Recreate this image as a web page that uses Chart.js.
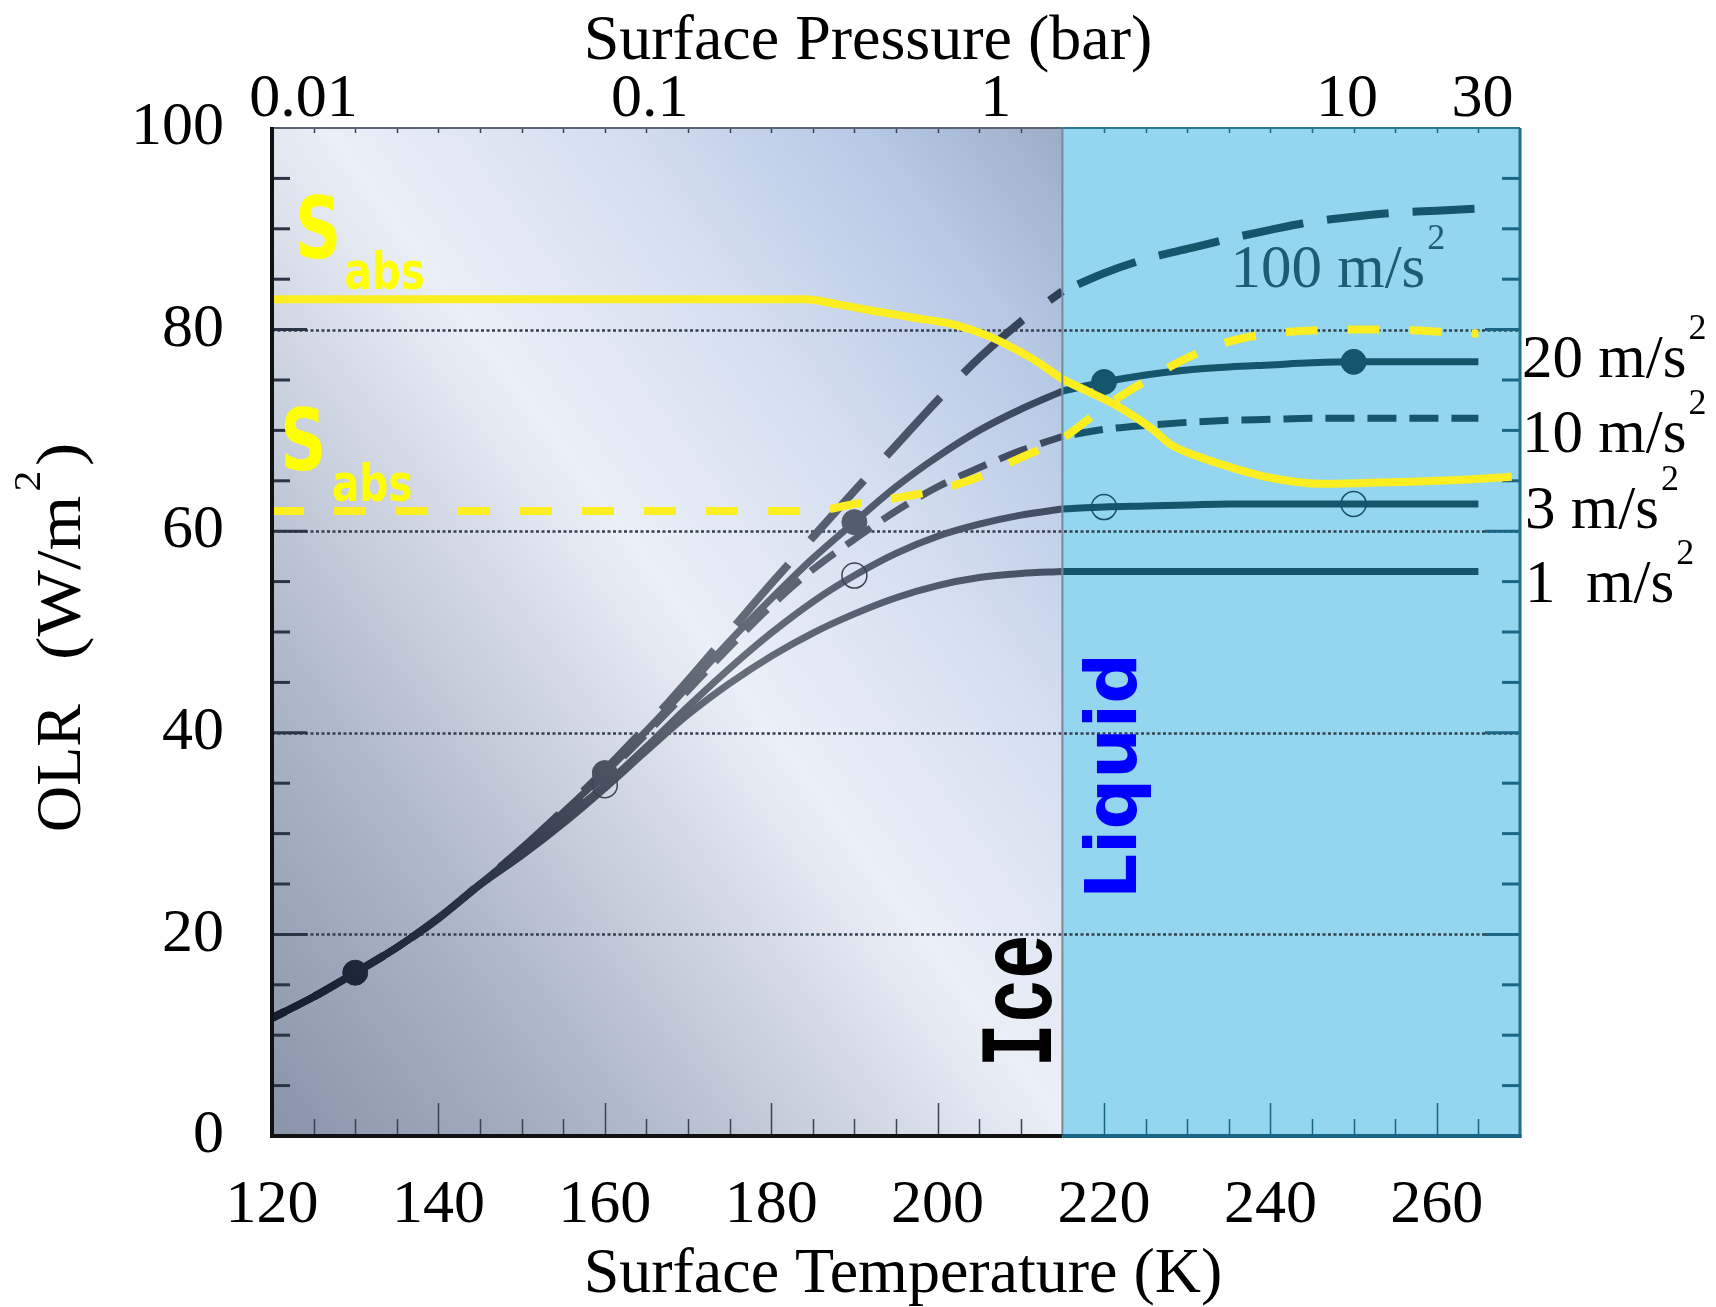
<!DOCTYPE html>
<html>
<head>
<meta charset="utf-8">
<script src="https://cdn.jsdelivr.net/npm/chart.js@4.4.1/dist/chart.umd.min.js"></script>
<style>
  html, body { margin: 0; padding: 0; background: #fff; }
  #wrap { width: 1716px; height: 1307px; position: relative; }
</style>
</head>
<body>
<div id="wrap"><canvas id="olr"></canvas></div>
<script>
// surface temperature (K) on the ice side and on the liquid side
const tempIce = [120, 125, 130, 135, 140, 145, 150, 155, 160, 165, 170, 175, 180, 185, 190, 195, 200, 205, 210, 215];
const tempLiquid = [215, 220, 225, 230, 235, 240, 245, 250, 255, 260, 265];

// OLR (W/m2) for each surface gravity
const olrG1Ice = [11.7, 13.8, 16.2, 18.7, 21.6, 24.9, 27.8, 31.0, 34.5, 38.2, 41.8, 44.9, 47.6, 49.9, 51.8, 53.4, 54.6, 55.4, 55.8, 56.0];
const olrG3Ice = [11.7, 13.8, 16.2, 18.7, 21.6, 24.9, 28.0, 31.3, 34.8, 38.6, 42.6, 46.4, 49.9, 53.0, 55.6, 57.8, 59.5, 60.7, 61.6, 62.2];
const olrG10Ice = [11.7, 13.8, 16.2, 18.7, 21.6, 25.0, 28.3, 32.0, 35.8, 39.9, 44.2, 48.5, 52.6, 56.2, 59.2, 62.0, 64.4, 66.3, 68.0, 69.4];
const olrG20Ice = [11.7, 13.8, 16.2, 18.7, 21.6, 25.0, 28.4, 32.1, 36.0, 40.2, 44.6, 49.1, 53.3, 57.3, 60.9, 64.4, 67.4, 70.0, 72.1, 73.9];
const olrG100Ice = [11.7, 13.8, 16.2, 18.7, 21.6, 25.0, 28.5, 32.3, 36.3, 40.6, 45.2, 50.0, 54.8, 59.4, 64.0, 68.5, 73.0, 77.2, 80.8, 83.8];

const olrG1Liq = [56.0, 56.0, 56.0, 56.0, 56.0, 56.0, 56.0, 56.0, 56.0, 56.0, 56.0];
const olrG3Liq = [62.2, 62.4, 62.5, 62.6, 62.7, 62.7, 62.7, 62.7, 62.7, 62.7, 62.7];
const olrG10Liq = [69.4, 70.1, 70.5, 70.8, 71.0, 71.1, 71.2, 71.2, 71.2, 71.2, 71.2];
const olrG20Liq = [73.9, 74.8, 75.5, 76.0, 76.3, 76.5, 76.7, 76.8, 76.8, 76.8, 76.8];
const olrG100Liq = [83.8, 85.6, 87.0, 88.0, 89.0, 89.9, 90.7, 91.2, 91.6, 91.8, 92.0];

// absorbed stellar flux, two cases
const sabsTemps = [120, 130, 140, 150, 160, 170, 180, 184, 188, 192, 197, 202, 206, 209, 212, 215, 218, 221, 224, 226, 228, 231, 235, 240, 246, 252, 257, 263, 269];
const sabsSolid = [83.0, 83.0, 83.0, 83.0, 83.0, 83.0, 83.0, 83.0, 82.5, 81.9, 81.2, 80.5, 79.4, 78.2, 76.8, 75.1, 73.9, 72.7, 71.2, 70.0, 68.6, 67.5, 66.4, 65.3, 64.7, 64.8, 64.9, 65.1, 65.4];
const sabsDashTemps = [120, 140, 160, 185, 190, 195, 200, 205, 210, 215, 220, 225, 230, 235, 240, 245, 250, 255, 260, 265];
const sabsDashed = [62.0, 62.0, 62.0, 62.0, 62.7, 63.3, 64.1, 65.4, 67.3, 69.2, 72.3, 74.9, 77.2, 78.8, 79.6, 79.9, 80.0, 80.0, 79.8, 79.6];

// marker temperatures: filled dots on 20 m/s2, open circles on 3 m/s2
const dotTemps = [130, 160, 190, 220, 250];
const circleTemps = [160, 190, 220, 250];

// axis ticks
const tempTicks = [120, 140, 160, 180, 200, 220, 240, 260];
const olrTicks = [0, 20, 40, 60, 80, 100];
const pressureLabels = ['0.01', '0.1', '1', '10', '30'];
const pressureTickTemps = [123.8, 165.4, 207.0, 249.2, 265.5];

const ICE_EDGE = 215;
const TEAL = '#16566d';
const YELLOW = '#fcee21';
const SERIF = '"Liberation Serif", "Times New Roman", serif';

function lookup(temps, vals, t) {
  return vals[temps.indexOf(t)];
}
const g20All = { t: tempIce.concat(tempLiquid.slice(1)), v: olrG20Ice.concat(olrG20Liq.slice(1)) };
const g3All = { t: tempIce.concat(tempLiquid.slice(1)), v: olrG3Ice.concat(olrG3Liq.slice(1)) };

// the ice panel is shaded along a diagonal band, lines under it take a matching tint
function diagGradient(chart, stops) {
  const { scales } = chart;
  const x = scales.x, y = scales.y;
  const g = chart.ctx.createLinearGradient(
    x.getPixelForValue(109.4), y.getPixelForValue(11.9),
    x.getPixelForValue(228.8), y.getPixelForValue(84.7)
  );
  stops.forEach(([p, c]) => g.addColorStop(p, c));
  return g;
}

function iceLineColor(ctx) {
  const chart = ctx.chart;
  if (!chart.chartArea) return '#555d6b';
  return diagGradient(chart, [
    [0, '#0f1828'], [0.25, '#2a3344'], [0.52, '#676e7b'], [0.75, '#4a5568'], [1, '#22344e']
  ]);
}

function curve(temps, vals, opts) {
  return Object.assign({
    data: temps.map((t, i) => ({ x: t, y: vals[i] })),
    pointRadius: 0,
    borderWidth: 7,
    fill: false,
    cubicInterpolationMode: 'monotone',
    order: 3
  }, opts);
}

function markers(temps, series, opts) {
  return Object.assign({
    data: temps.map(t => ({ x: t, y: lookup(series.t, series.v, t) })),
    showLine: false,
    pointRadius: 12.5,
    order: 2
  }, opts);
}

const datasets = [
  curve(tempIce, olrG1Ice, { borderColor: iceLineColor }),
  curve(tempIce, olrG3Ice, { borderColor: iceLineColor }),
  curve(tempIce, olrG10Ice, { borderColor: iceLineColor, borderDash: [30, 14] }),
  curve(tempIce, olrG20Ice, { borderColor: iceLineColor }),
  curve(tempIce, olrG100Ice, { borderColor: iceLineColor, borderDash: [80, 33], borderDashOffset: 65, borderWidth: 8 }),
  curve(tempLiquid, olrG1Liq, { borderColor: TEAL }),
  curve(tempLiquid, olrG3Liq, { borderColor: TEAL }),
  curve(tempLiquid, olrG10Liq, { borderColor: TEAL, borderDash: [29, 13], borderDashOffset: 30 }),
  curve(tempLiquid, olrG20Liq, { borderColor: TEAL }),
  curve(tempLiquid, olrG100Liq, { borderColor: TEAL, borderDash: [62, 24], borderWidth: 8, borderDashOffset: 69 }),
  markers(dotTemps.filter(t => t < ICE_EDGE), g20All, {
    pointBackgroundColor: iceLineColor, pointBorderColor: iceLineColor, pointBorderWidth: 1
  }),
  markers(dotTemps.filter(t => t > ICE_EDGE), g20All, {
    pointBackgroundColor: TEAL, pointBorderColor: TEAL, pointBorderWidth: 1
  }),
  markers(circleTemps.filter(t => t < ICE_EDGE), g3All, {
    pointBackgroundColor: 'rgba(0,0,0,0)', pointBorderColor: '#3c4556', pointBorderWidth: 1.5
  }),
  markers(circleTemps.filter(t => t > ICE_EDGE), g3All, {
    pointBackgroundColor: 'rgba(0,0,0,0)', pointBorderColor: '#1b4f66', pointBorderWidth: 1.5
  }),
  curve(sabsTemps, sabsSolid, { borderColor: YELLOW, borderWidth: 8, order: 0 }),
  curve(sabsDashTemps, sabsDashed, { borderColor: YELLOW, borderWidth: 8, borderDash: [32, 30], order: 0 })
];

// panel backgrounds, dotted grid, inward ticks
const panelPlugin = {
  id: 'panels',
  beforeDraw(chart) {
    const { ctx, chartArea: a, scales: { x } } = chart;
    const edge = x.getPixelForValue(ICE_EDGE);
    ctx.save();
    ctx.fillStyle = '#fff';
    ctx.fillRect(0, 0, chart.width, chart.height);
    ctx.fillStyle = diagGradient(chart, [
      [0, '#8994aa'], [0.2, '#a8b2c5'], [0.52, '#ebeff7'], [0.7, '#d5dff0'], [0.87, '#b6c9e5'], [1, '#9cadc6']
    ]);
    ctx.fillRect(a.left, a.top, edge - a.left, a.bottom - a.top);
    ctx.fillStyle = '#94d5ef';
    ctx.fillRect(edge, a.top, a.right - edge, a.bottom - a.top);
    ctx.restore();
  },
  beforeDatasetsDraw(chart) {
    const { ctx, chartArea: a, scales: { x, y } } = chart;
    ctx.save();
    // dotted grid
    ctx.strokeStyle = '#34404f';
    ctx.lineWidth = 2.5;
    ctx.setLineDash([3, 2.5]);
    [20, 40, 60, 80].forEach(v => {
      const py = Math.round(y.getPixelForValue(v)) + 0.5;
      ctx.beginPath();
      ctx.moveTo(a.left, py);
      ctx.lineTo(a.right, py);
      ctx.stroke();
    });
    ctx.setLineDash([]);
    // y ticks, both sides
    ctx.lineWidth = 3;
    for (let v = 5; v < 100; v += 5) {
      const py = y.getPixelForValue(v);
      const len = v % 20 === 0 ? 35 : 18;
      ctx.strokeStyle = '#2b3445';
      ctx.beginPath();
      ctx.moveTo(a.left, py);
      ctx.lineTo(a.left + len, py);
      ctx.stroke();
      ctx.strokeStyle = '#1b6685';
      ctx.beginPath();
      ctx.moveTo(a.right, py);
      ctx.lineTo(a.right - len, py);
      ctx.stroke();
    }
    // x ticks, bottom (long/short) and top (short)
    ctx.lineWidth = 1.5;
    for (let t = 125; t < 270; t += 5) {
      if (t === ICE_EDGE) continue;
      const px = Math.round(x.getPixelForValue(t)) + 0.5;
      const len = t % 20 === 0 ? 33 : 17;
      ctx.strokeStyle = t < ICE_EDGE ? '#3a4253' : '#1b6685';
      ctx.beginPath();
      ctx.moveTo(px, a.bottom);
      ctx.lineTo(px, a.bottom - len);
      ctx.moveTo(px, a.top);
      ctx.lineTo(px, a.top + 5);
      ctx.stroke();
    }
    ctx.restore();
  },
  afterDatasetsDraw(chart) {
    const { ctx, chartArea: a, scales: { x } } = chart;
    const edge = x.getPixelForValue(ICE_EDGE);
    ctx.save();
    const seg = (x1, y1, x2, y2, c, w) => {
      ctx.strokeStyle = c;
      ctx.lineWidth = w;
      ctx.beginPath();
      ctx.moveTo(x1, y1);
      ctx.lineTo(x2, y2);
      ctx.stroke();
    };
    seg(edge, a.top, edge, a.bottom, '#768a98', 2);
    seg(a.left, a.top, edge, a.top, '#5a6473', 2);
    seg(edge, a.top, a.right, a.top, '#2a7a95', 2);
    seg(a.right, a.top, a.right, a.bottom + 2, '#1f6f8f', 3);
    seg(a.left - 2, a.bottom, edge, a.bottom, '#111', 4);
    seg(edge, a.bottom, a.right + 1.5, a.bottom, '#1a6584', 4);
    seg(a.left, a.top - 1, a.left, a.bottom + 2, '#111', 4);
    ctx.restore();
  }
};

// labels, region names and axis titles
const textPlugin = {
  id: 'annotations',
  afterDraw(chart) {
    const { ctx, chartArea: a, scales: { x, y } } = chart;
    ctx.save();
    ctx.textAlign = 'left';
    ctx.textBaseline = 'alphabetic';

    const withSup = (main, px, py, color, size, supSize, lift) => {
      ctx.fillStyle = color;
      ctx.font = size + 'px ' + SERIF;
      ctx.fillText(main, px, py);
      const w = ctx.measureText(main).width;
      ctx.font = supSize + 'px ' + SERIF;
      ctx.fillText('2', px + w + 2, py - lift);
    };

    // gravity labels
    withSup('100 m/s', x.getPixelForValue(235.2), y.getPixelForValue(84.2), '#1d5d74', 61, 36, 38);
    const rightLabels = [['20 m/s', 75.3], ['10 m/s', 67.9], ['3 m/s', 60.3], ['1  m/s', 53.0]];
    rightLabels.forEach(([txt, v], i) => {
      withSup(txt, a.right + (i < 2 ? 2 : 5), y.getPixelForValue(v), '#000', 61, 36, 38);
    });

    // S_abs labels
    const sabs = (tS, vS, tA, vA) => {
      ctx.fillStyle = '#ffff00';
      ctx.save();
      ctx.translate(x.getPixelForValue(tS), y.getPixelForValue(vS));
      ctx.scale(0.75, 1);
      ctx.font = 'bold 85px "DejaVu Sans", sans-serif';
      ctx.fillText('S', 0, 0);
      ctx.restore();
      ctx.save();
      ctx.translate(x.getPixelForValue(tA), y.getPixelForValue(vA));
      ctx.scale(0.78, 1);
      ctx.font = 'bold 52px "DejaVu Sans", sans-serif';
      ctx.fillText('abs', 0, 0);
      ctx.restore();
    };
    sabs(122.8, 87.1, 128.7, 84.0);
    sabs(121.0, 66.1, 127.2, 63.0);

    // region names, written upwards
    ctx.save();
    ctx.translate(x.getPixelForValue(213.6), y.getPixelForValue(6.8));
    ctx.rotate(-Math.PI / 2);
    ctx.scale(1, 1.4);
    ctx.fillStyle = '#000';
    ctx.font = 'bold 74px "Liberation Mono", monospace';
    ctx.fillText('Ice', 0, 0);
    ctx.restore();

    ctx.save();
    ctx.translate(x.getPixelForValue(223.9), y.getPixelForValue(23.5));
    ctx.rotate(-Math.PI / 2);
    ctx.fillStyle = '#0000ff';
    ctx.font = 'bold 71px "DejaVu Sans", sans-serif';
    ctx.fillText('Liquid', 0, 0);
    ctx.restore();

    // axis titles
    ctx.fillStyle = '#000';
    ctx.font = '64px ' + SERIF;
    ctx.textAlign = 'center';
    ctx.fillText('Surface Pressure (bar)', 868, 59);
    ctx.fillText('Surface Temperature (K)', 903, 1292);

    ctx.save();
    ctx.translate(80, 832);
    ctx.rotate(-Math.PI / 2);
    ctx.textAlign = 'left';
    ctx.font = '64px ' + SERIF;
    ctx.fillText('OLR', 0, 0);
    let w = ctx.measureText('OLR').width + 44;
    ctx.save();
    ctx.translate(w, 0);
    ctx.scale(1.1, 1);
    const main = '(W/m';
    ctx.fillText(main, 0, 0);
    let w2 = ctx.measureText(main).width;
    ctx.font = '38px ' + SERIF;
    ctx.fillText('2', w2 + 4, -40);
    w2 += ctx.measureText('2').width + 8;
    ctx.font = '64px ' + SERIF;
    ctx.fillText(')', w2, 0);
    ctx.restore();
    ctx.restore();

    ctx.restore();
  }
};

const tickFont = { family: SERIF, size: 62 };

new Chart(document.getElementById('olr'), {
  type: 'line',
  data: { datasets },
  options: {
    responsive: true,
    maintainAspectRatio: false,
    animation: false,
    events: [],
    layout: { padding: 0 },
    plugins: { legend: { display: false }, tooltip: { enabled: false } },
    scales: {
      x: {
        type: 'linear',
        position: 'bottom',
        min: 120,
        max: 270,
        afterBuildTicks: s => { s.ticks = tempTicks.map(v => ({ value: v })); },
        afterFit: s => { s.height = 171; },
        grid: { display: false, drawTicks: false },
        border: { display: false },
        ticks: { font: tickFont, color: '#000', padding: 33, maxRotation: 0, autoSkip: false }
      },
      xTop: {
        type: 'linear',
        position: 'top',
        min: 120,
        max: 270,
        afterBuildTicks: s => { s.ticks = pressureTickTemps.map(v => ({ value: v })); },
        afterFit: s => { s.height = 128; },
        grid: { display: false, drawTicks: false },
        border: { display: false },
        ticks: {
          font: tickFont, color: '#000', padding: -9, maxRotation: 0, autoSkip: false,
          callback: (v, i) => pressureLabels[i]
        }
      },
      y: {
        type: 'linear',
        position: 'left',
        min: 0,
        max: 100,
        afterBuildTicks: s => { s.ticks = olrTicks.map(v => ({ value: v })); },
        afterFit: s => { s.width = 272; },
        grid: { display: false, drawTicks: false },
        border: { display: false },
        ticks: { font: tickFont, color: '#000', padding: 48, autoSkip: false }
      },
      yRight: {
        type: 'linear',
        position: 'right',
        min: 0,
        max: 100,
        afterFit: s => { s.width = 196; },
        grid: { display: false, drawTicks: false },
        border: { display: false },
        ticks: { display: false }
      }
    }
  },
  plugins: [panelPlugin, textPlugin]
});
</script>
</body>
</html>
